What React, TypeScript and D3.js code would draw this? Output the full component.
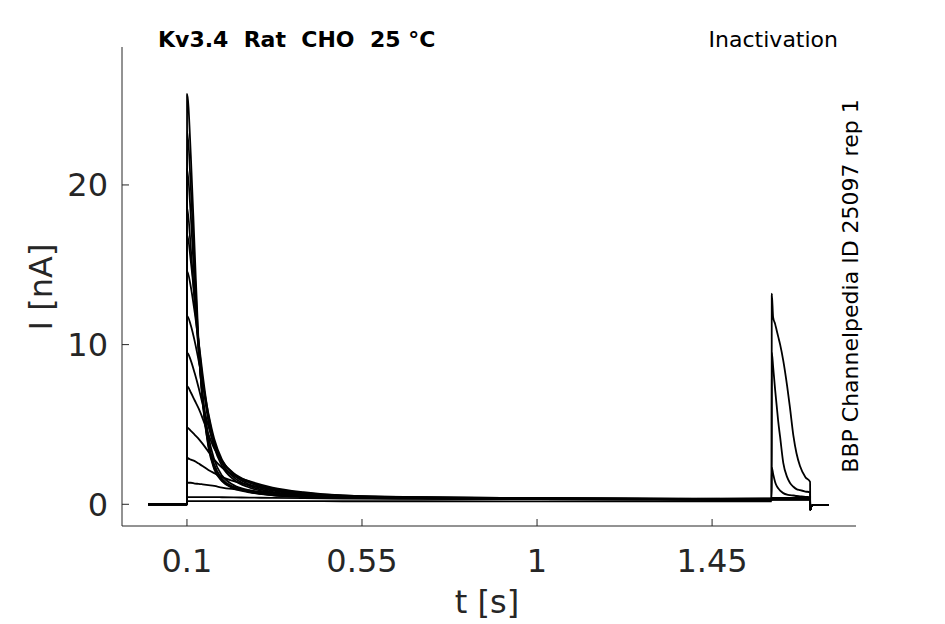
import { line, scaleLinear, curveMonotoneX } from 'd3'

const W = 945
const H = 624

const X_TICKS = [0.1, 0.55, 1, 1.45]
const X_TICK_LABELS = ['0.1', '0.55', '1', '1.45']
const Y_TICKS = [0, 10, 20]
const Y_TICK_LABELS = ['0', '10', '20']

// prepulse sweep times [s]
const PRE_T = [0, 0.1, 0.1003, 0.11, 0.12, 0.13, 0.14, 0.155, 0.17, 0.19, 0.22, 0.26, 0.32, 0.4, 0.5, 0.7, 1.0, 1.3, 1.603]

// prepulse currents [nA], one row per sweep
const PRE_I = [
    [0, 0, 25.7, 21.8, 15.8, 10.0, 6.5, 3.6, 2.2, 1.45, 1.0, 0.75, 0.56, 0.46, 0.4, 0.36, 0.32, 0.3, 0.3],
    [0, 0, 23.4, 19.8, 14.6, 9.8, 6.6, 3.7, 2.3, 1.5, 1.05, 0.78, 0.58, 0.47, 0.41, 0.37, 0.33, 0.31, 0.3],
    [0, 0, 21.0, 18.0, 13.6, 9.6, 6.7, 3.9, 2.5, 1.6, 1.1, 0.8, 0.6, 0.48, 0.42, 0.38, 0.34, 0.32, 0.31],
    [0, 0, 18.6, 16.0, 12.6, 9.6, 7.0, 4.3, 2.8, 1.8, 1.2, 0.88, 0.64, 0.5, 0.43, 0.38, 0.34, 0.32, 0.28],
    [0, 0, 16.9, 15.2, 12.8, 10.2, 7.8, 5.2, 3.6, 2.4, 1.55, 1.05, 0.72, 0.55, 0.45, 0.39, 0.35, 0.32, 0.33],
    [0, 0, 14.6, 13.6, 12.0, 10.2, 8.2, 5.6, 3.9, 2.6, 1.7, 1.15, 0.78, 0.58, 0.47, 0.39, 0.35, 0.33, 0.36],
    [0, 0, 11.8, 11.2, 10.2, 9.0, 7.7, 5.7, 4.1, 2.8, 1.85, 1.25, 0.85, 0.62, 0.49, 0.4, 0.36, 0.33, 0.25],
    [0, 0, 9.5, 9.0, 8.2, 7.3, 6.3, 4.9, 3.7, 2.7, 1.9, 1.35, 0.92, 0.65, 0.5, 0.41, 0.36, 0.33, 0.38],
    [0, 0, 7.4, 7.0, 6.5, 6.0, 5.4, 4.4, 3.5, 2.7, 1.95, 1.42, 0.98, 0.7, 0.53, 0.42, 0.37, 0.34, 0.3],
    [0, 0, 4.8, 4.6, 4.35, 4.1, 3.8, 3.3, 2.8, 2.3, 1.8, 1.45, 1.05, 0.76, 0.56, 0.44, 0.38, 0.35, 0.33],
    [0, 0, 2.9, 2.8, 2.7, 2.55, 2.4, 2.15, 1.95, 1.7, 1.45, 1.2, 0.95, 0.72, 0.56, 0.45, 0.39, 0.36, 0.34],
    [0, 0, 1.35, 1.35, 1.3, 1.28, 1.25, 1.2, 1.15, 1.05, 0.95, 0.85, 0.72, 0.6, 0.5, 0.42, 0.38, 0.35, 0.3],
    [0, 0, 0.45, 0.45, 0.45, 0.45, 0.45, 0.45, 0.45, 0.44, 0.43, 0.42, 0.4, 0.38, 0.36, 0.34, 0.32, 0.31, 0.28],
    [0, 0, 0.2, 0.2, 0.2, 0.2, 0.2, 0.2, 0.2, 0.2, 0.2, 0.2, 0.2, 0.2, 0.19, 0.19, 0.18, 0.18, 0.18]
]

// test pulse times [s]
const TEST_T = [1.6035, 1.607, 1.612, 1.616, 1.62, 1.625, 1.633, 1.643, 1.65, 1.659, 1.667, 1.676, 1.69, 1.702]

const TEST_I = [
    [0.32, 0.32, 0.32, 0.32, 0.32, 0.32, 0.32, 0.32, 0.32, 0.32, 0.32, 0.32, 0.32, 0.32],
    [0.33, 0.33, 0.33, 0.33, 0.33, 0.33, 0.33, 0.33, 0.33, 0.33, 0.33, 0.33, 0.33, 0.33],
    [0.34, 0.34, 0.34, 0.34, 0.34, 0.34, 0.34, 0.34, 0.34, 0.34, 0.34, 0.34, 0.34, 0.34],
    [0.3, 0.3, 0.3, 0.3, 0.3, 0.3, 0.3, 0.3, 0.3, 0.3, 0.3, 0.3, 0.3, 0.3],
    [0.36, 0.36, 0.36, 0.36, 0.36, 0.36, 0.36, 0.36, 0.36, 0.36, 0.36, 0.36, 0.36, 0.36],
    [0.38, 0.38, 0.38, 0.38, 0.38, 0.38, 0.38, 0.38, 0.38, 0.38, 0.38, 0.38, 0.38, 0.38],
    [0.28, 0.28, 0.28, 0.28, 0.28, 0.28, 0.28, 0.28, 0.28, 0.28, 0.28, 0.28, 0.28, 0.28],
    [0.4, 0.4, 0.4, 0.4, 0.4, 0.4, 0.4, 0.4, 0.4, 0.4, 0.4, 0.4, 0.4, 0.4],
    [0.33, 0.33, 0.33, 0.33, 0.33, 0.33, 0.33, 0.33, 0.33, 0.33, 0.33, 0.33, 0.33, 0.33],
    [0.35, 0.35, 0.35, 0.35, 0.35, 0.35, 0.35, 0.35, 0.35, 0.35, 0.35, 0.35, 0.35, 0.35],
    [0.37, 0.37, 0.37, 0.37, 0.37, 0.37, 0.37, 0.37, 0.37, 0.37, 0.37, 0.37, 0.37, 0.37],
    [2.3, 1.9, 1.4, 1.15, 1.0, 0.85, 0.7, 0.6, 0.57, 0.55, 0.52, 0.5, 0.47, 0.45],
    [9.5, 8.6, 7.2, 6.2, 5.2, 4.2, 2.6, 1.7, 1.35, 1.1, 0.95, 0.88, 0.8, 0.75],
    [13.2, 11.7, 11.3, 10.9, 10.5, 10.0, 9.0, 7.4, 6.1, 4.3, 3.2, 2.4, 1.7, 1.4]
]

// tail after the test pulse
const TAIL_T = [1.7023, 1.705, 1.71, 1.75]
const TAIL_I = [-0.35, -0.15, -0.05, -0.05]

const margin = { left: 122, right: 89, top: 47, bottom: 98 }

const x = scaleLinear().domain([-0.067, 1.82]).range([margin.left, W - margin.right])
const y = scaleLinear().domain([-1.36, 28.64]).range([H - margin.bottom, margin.top])

const traceLine = line<[number, number]>()
    .x(d => x(d[0]))
    .y(d => y(d[1]))
    .curve(curveMonotoneX)

const axisColor = '#262626'
const font = 'DejaVu Sans, sans-serif'

export default function App() {
    const sweeps = PRE_I.map((pre, i) => {
        const pts: [number, number][] = []
        PRE_T.forEach((t, j) => pts.push([t, pre[j]]))
        TEST_T.forEach((t, j) => pts.push([t, TEST_I[i][j]]))
        TAIL_T.forEach((t, j) => pts.push([t, TAIL_I[j]]))
        return pts
    })

    const x0 = margin.left
    const yb = H - margin.bottom

    return (
        <div style={{ position: 'fixed', left: 0, top: 0 }}>
            <svg width={W} height={H} style={{ display: 'block', background: '#fff' }}>
                <g fill="none" stroke="#000" strokeWidth={1.8} strokeLinejoin="round">
                    {sweeps.map((pts, i) => (
                        <path key={i} d={traceLine(pts) || ''} />
                    ))}
                </g>

                {/* axes */}
                <line x1={x0} x2={x0} y1={margin.top} y2={yb} stroke={axisColor} strokeWidth={1} />
                <line x1={x0} x2={W - margin.right} y1={yb} y2={yb} stroke={axisColor} strokeWidth={1} />

                {X_TICKS.map((t, i) => (
                    <g key={t}>
                        <line x1={x(t)} x2={x(t)} y1={yb} y2={yb - 7} stroke={axisColor} />
                        <text x={x(t)} y={572} textAnchor="middle" fontFamily={font} fontSize={32} fill={axisColor}>
                            {X_TICK_LABELS[i]}
                        </text>
                    </g>
                ))}
                {Y_TICKS.map((v, i) => (
                    <g key={v}>
                        <line x1={x0} x2={x0 + 7} y1={y(v)} y2={y(v)} stroke={axisColor} />
                        <text x={108} y={y(v)} dy="0.36em" textAnchor="end" fontFamily={font} fontSize={32} fill={axisColor}>
                            {Y_TICK_LABELS[i]}
                        </text>
                    </g>
                ))}

                <text x={487} y={613} textAnchor="middle" fontFamily={font} fontSize={32} fill={axisColor}>t [s]</text>
                <text transform={`translate(52,${287}) rotate(-90)`} textAnchor="middle" fontFamily={font} fontSize={32} fill={axisColor}>I [nA]</text>

                <text x={158} y={47} fontFamily={font} fontSize={22} fontWeight="bold" fill="#000" style={{ whiteSpace: 'pre' }}>
                    {'Kv3.4  Rat  CHO  25 °C'}
                </text>
                <text x={838} y={47} textAnchor="end" fontFamily={font} fontSize={22} fill="#000">Inactivation</text>
                <text transform={`translate(858,${286}) rotate(-90)`} textAnchor="middle" fontFamily={font} fontSize={22} fill="#000">
                    BBP Channelpedia ID 25097 rep 1
                </text>
            </svg>
        </div>
    )
}
